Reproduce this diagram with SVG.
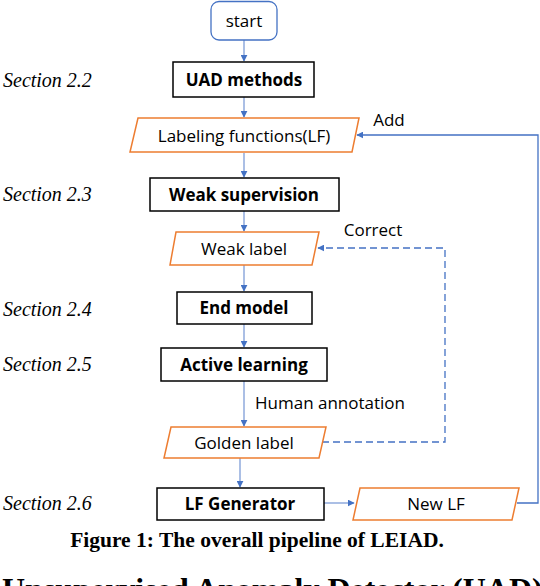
<svg xmlns="http://www.w3.org/2000/svg" width="540" height="586" viewBox="0 0 540 586">
<defs>
<marker id="ah" viewBox="0 0 10 10" refX="9" refY="5" markerWidth="7" markerHeight="7" markerUnits="userSpaceOnUse" orient="auto">
<path d="M0,0 L10,5 L0,10 z" fill="#4472C4"/>
</marker>
</defs>
<style>
.box{fill:#fff;stroke:#000;stroke-width:1.5}
.io{fill:#fff;stroke:#ED7D31;stroke-width:1.5}
.t{font-family:"Open Sans","Noto Sans",sans-serif;font-size:17px;fill:#000;text-anchor:middle}
.b{font-weight:bold}
.sec{font-family:"Liberation Serif",serif;font-style:italic;font-size:20px;fill:#000}
.ln{fill:none;stroke:#8FAADC;stroke-width:1.5}
.ln2{fill:none;stroke:#4472C4;stroke-width:1.3}
.dash{fill:none;stroke:#4472C4;stroke-width:1.3;stroke-dasharray:7,4}
</style>
<g id="connectors">
<line class="ln" x1="244" y1="40" x2="244" y2="61" marker-end="url(#ah)"/>
<line class="ln" x1="244" y1="97" x2="244" y2="117" marker-end="url(#ah)"/>
<line class="ln" x1="244" y1="153" x2="244" y2="177" marker-end="url(#ah)"/>
<line class="ln" x1="244" y1="211" x2="244" y2="231" marker-end="url(#ah)"/>
<line class="ln" x1="244" y1="265" x2="244" y2="291" marker-end="url(#ah)"/>
<line class="ln" x1="244" y1="324" x2="244" y2="347" marker-end="url(#ah)"/>
<line class="ln" x1="244" y1="381" x2="244" y2="426" marker-end="url(#ah)"/>
<line class="ln" x1="240" y1="458" x2="240" y2="487" marker-end="url(#ah)"/>
<line class="ln" x1="324" y1="503" x2="354" y2="503" marker-end="url(#ah)"/>
<polyline class="ln2" points="517,503 538,503 538,135 357,135" marker-end="url(#ah)"/>
<polyline class="dash" points="322,442 445,442 445,248 318,248" marker-end="url(#ah)"/>
<text class="t" x="389" y="126">Add</text>
<text class="t" x="373" y="236">Correct</text>
<text class="t" x="330" y="409">Human annotation</text>
</g>
<g id="start">
<rect x="211" y="1.5" width="66" height="38.5" rx="8" fill="#fff" stroke="#4472C4" stroke-width="1.3"/>
<text class="t" x="244" y="27">start</text>
</g>
<g id="uad">
<rect class="box" x="173" y="62" width="141" height="35"/>
<text class="t b" x="244" y="86">UAD methods</text>
</g>
<g id="lf">
<polygon class="io" points="138,118 359,118 352,152 130,152"/>
<text class="t" x="244" y="142">Labeling functions(LF)</text>
</g>
<g id="weaksup">
<rect class="box" x="150" y="178" width="189" height="33"/>
<text class="t b" x="244" y="201">Weak supervision</text>
</g>
<g id="weaklabel">
<polygon class="io" points="176,232 319,232 312,265 170,265"/>
<text class="t" x="244" y="255">Weak label</text>
</g>
<g id="endmodel">
<rect class="box" x="177" y="292" width="135" height="32"/>
<text class="t b" x="244" y="314">End model</text>
</g>
<g id="active">
<rect class="box" x="161" y="348" width="166" height="33"/>
<text class="t b" x="244" y="371">Active learning</text>
</g>
<g id="golden">
<polygon class="io" points="171,427 326,427 319,458 164,458"/>
<text class="t" x="244" y="449">Golden label</text>
</g>
<g id="lfgen">
<rect class="box" x="157" y="488" width="167" height="32"/>
<text class="t b" x="240" y="510">LF Generator</text>
</g>
<g id="newlf">
<polygon class="io" points="360,488 519,488 512,520 353,520"/>
<text class="t" x="436" y="510">New LF</text>
</g>
<g id="sections">
<text class="sec" x="3" y="87">Section 2.2</text>
<text class="sec" x="3" y="201">Section 2.3</text>
<text class="sec" x="3" y="316">Section 2.4</text>
<text class="sec" x="3" y="371">Section 2.5</text>
<text class="sec" x="3" y="510">Section 2.6</text>
</g>
<text x="257" y="547" style="font-family:'Liberation Serif',serif;font-weight:bold;font-size:21.5px;text-anchor:middle">Figure 1: The overall pipeline of LEIAD.</text>
<text x="2" y="600" style="font-family:'Liberation Serif',serif;font-weight:bold;font-size:32px">Unsupervised Anomaly Detector (UAD)</text>
</svg>
